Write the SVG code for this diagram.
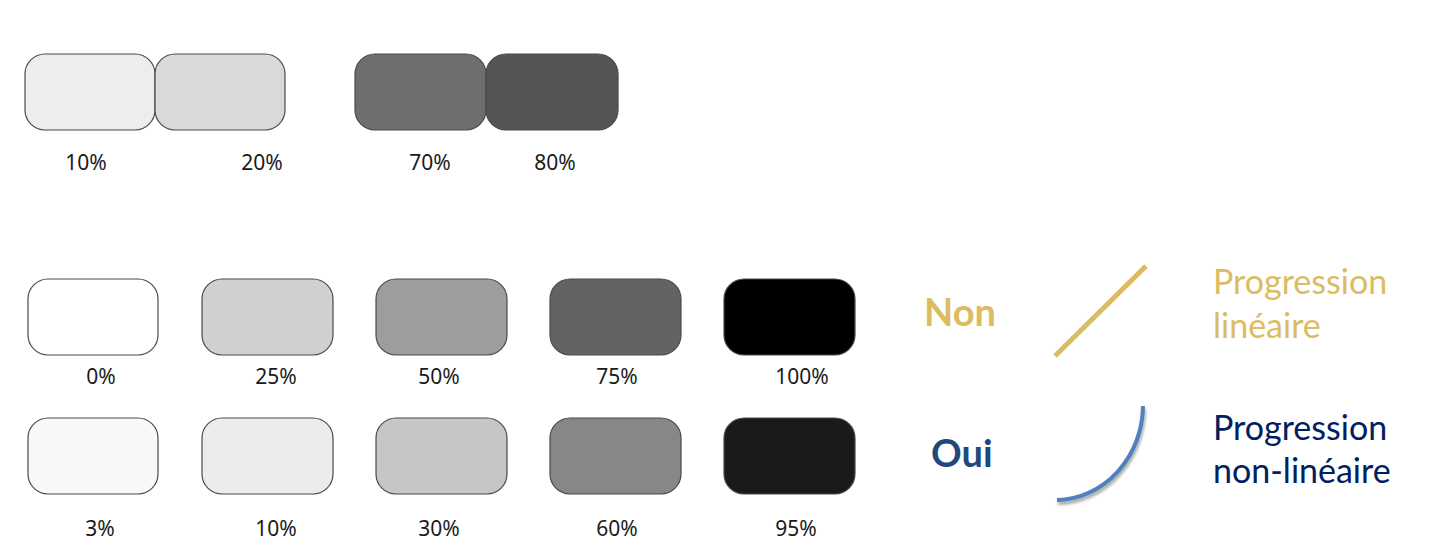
<svg xmlns="http://www.w3.org/2000/svg" width="1429" height="556" viewBox="0 0 1429 556">
<style>
.box{stroke:#4a4a4a;stroke-width:1.2}
.lbl{font-family:"Noto Sans","Open Sans",sans-serif;font-size:21px;fill:#1a1a1a;text-anchor:middle}
.big{font-family:Lato,"Open Sans",sans-serif;font-size:34px}
.yn{font-family:Lato,"Open Sans",sans-serif;font-size:38px;font-weight:bold}
</style>
<defs>
<filter id="sh" x="-20%" y="-20%" width="140%" height="140%">
<feGaussianBlur in="SourceAlpha" stdDeviation="1.5"/>
<feOffset dx="1" dy="3" result="b"/>
<feComponentTransfer><feFuncA type="linear" slope="0.35"/></feComponentTransfer>
<feMerge><feMergeNode/><feMergeNode in="SourceGraphic"/></feMerge>
</filter>
</defs>
<rect width="1429" height="556" fill="#ffffff"/>
<g id="b10a"><rect class="box" x="25" y="54" width="130" height="76" rx="20" fill="#ededed"/><text class="lbl" x="86" y="170">10%</text></g>
<g id="b20a"><rect class="box" x="155" y="54" width="130" height="76" rx="20" fill="#d9d9d9"/><text class="lbl" x="262" y="170">20%</text></g>
<g id="b70a"><rect class="box" x="355" y="54" width="131" height="76" rx="20" fill="#6e6e6e"/><text class="lbl" x="430" y="170">70%</text></g>
<g id="b80a"><rect class="box" x="486" y="54" width="132" height="76" rx="20" fill="#555555"/><text class="lbl" x="555" y="170">80%</text></g>

<g id="b0"><rect class="box" x="28" y="279" width="130" height="76" rx="20" fill="#ffffff"/><text class="lbl" x="101" y="384">0%</text></g>
<g id="b25"><rect class="box" x="202" y="279" width="131" height="76" rx="20" fill="#d0d0d0"/><text class="lbl" x="276" y="384">25%</text></g>
<g id="b50"><rect class="box" x="376" y="279" width="131" height="76" rx="20" fill="#9d9d9d"/><text class="lbl" x="439" y="384">50%</text></g>
<g id="b75"><rect class="box" x="550" y="279" width="131" height="76" rx="20" fill="#636363"/><text class="lbl" x="617" y="384">75%</text></g>
<g id="b100"><rect class="box" x="724" y="279" width="131" height="76" rx="20" fill="#000000"/><text class="lbl" x="802" y="384">100%</text></g>

<g id="b3"><rect class="box" x="28" y="418" width="130" height="76" rx="20" fill="#f8f8f8"/><text class="lbl" x="100" y="536">3%</text></g>
<g id="b10"><rect class="box" x="202" y="418" width="131" height="76" rx="20" fill="#ececec"/><text class="lbl" x="276" y="536">10%</text></g>
<g id="b30"><rect class="box" x="376" y="418" width="131" height="76" rx="20" fill="#c6c6c6"/><text class="lbl" x="439" y="536">30%</text></g>
<g id="b60"><rect class="box" x="550" y="418" width="131" height="76" rx="20" fill="#878787"/><text class="lbl" x="617" y="536">60%</text></g>
<g id="b95"><rect class="box" x="724" y="418" width="131" height="76" rx="20" fill="#1a1a1a"/><text class="lbl" x="796" y="536">95%</text></g>

<g id="non"><text class="yn" x="924" y="326" fill="#dcbc62">Non</text></g>
<g id="oui"><text class="yn" x="931" y="467" fill="#1f497d">Oui</text></g>
<g id="lin"><text class="big" fill="#dcbc62"><tspan x="1213" y="294">Progression</tspan><tspan x="1213" y="338">linéaire</tspan></text></g>
<g id="nonlin"><text class="big" fill="#002060"><tspan x="1213" y="440">Progression</tspan><tspan x="1213" y="483">non-linéaire</tspan></text></g>

<g id="connectors">
<line x1="1055" y1="356" x2="1146" y2="266" stroke="#dcbc62" stroke-width="5"/>
<path d="M1143,406 A88,95 0 0 1 1057,500" fill="none" stroke="#4f81bd" stroke-width="4" filter="url(#sh)"/>
</g>
</svg>
